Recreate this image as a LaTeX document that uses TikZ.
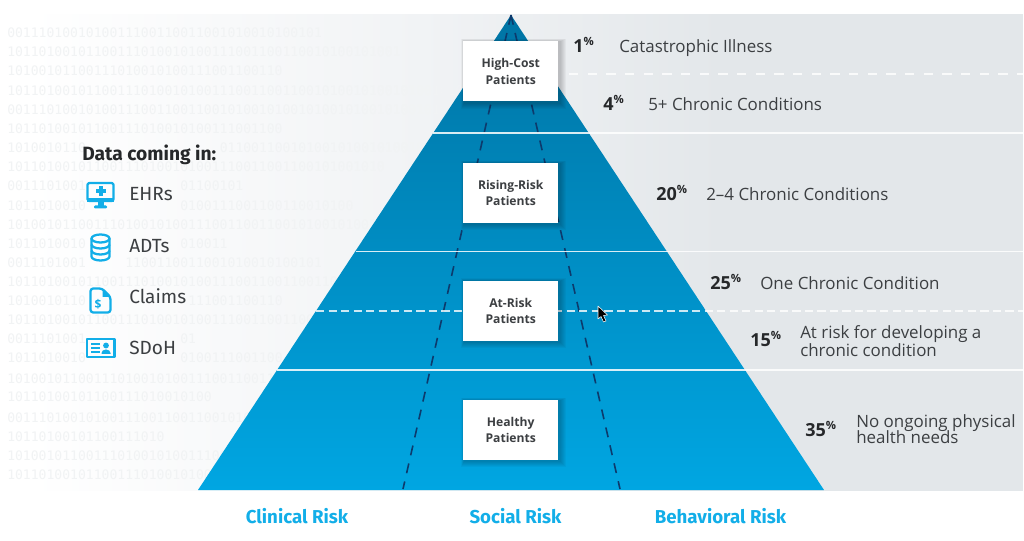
\documentclass[tikz,border=0pt]{standalone}
\usepackage{fontspec}
\setmainfont{Open Sans}
\newfontfamily\headfont{Fira Sans}
\newfontfamily\binfont{DejaVu Sans Mono}
\IfFontExistsTF{Open Sans SemiBold}{\newfontfamily\boxfont{Open Sans SemiBold}}{\newfontfamily\boxfont{Open Sans}[UprightFont=*-Bold]}
\usetikzlibrary{calc}
\definecolor{bgend}{HTML}{E3E7EA}
\definecolor{bgmid}{HTML}{F1F3F5}
\definecolor{bintxt}{HTML}{F1F3F4}
\definecolor{pyrtop}{HTML}{0074A4}
\definecolor{pyrmid}{HTML}{007CB0}
\definecolor{pyrbot}{HTML}{00A6E2}
\definecolor{navy}{HTML}{0D3A6C}
\definecolor{sky}{HTML}{12AEE8}
\definecolor{ink}{HTML}{3C3F42}
\definecolor{inkdark}{HTML}{26282A}
\newcommand\fs[1]{\fontsize{#1}{#1}\selectfont}
\tikzset{
  x=0.75pt,y=-0.75pt,
  bintext/.style={anchor=base west,inner sep=0pt,text=bintxt,font=\binfont\fs{9.8pt}},
  patbox/.style={fill=white,minimum width=71.6pt,minimum height=45pt,inner sep=0pt,align=center,
    font=\boxfont\fs{9.1pt},text=ink,text depth=0pt},
  pct/.style={anchor=base west,inner sep=0pt,text=inkdark,font=\bfseries\fs{13.5pt}},
  desc/.style={anchor=base west,inner sep=0pt,text=ink,font=\fs{12.7pt},align=left},
  axislabel/.style={anchor=base,inner sep=0pt,text=sky,font=\headfont\bfseries\fs{14pt}},
  srclabel/.style={anchor=base west,inner sep=0pt,text=ink,font=\headfont\fs{14.3pt}},
  riskline/.style={navy,line width=1.2pt,dash pattern=on 7.5pt off 6.3pt},
  bandline/.style={white,opacity=.85,line width=1.1pt},
  iconline/.style={sky,line width=1.7pt,line join=round},
}
\newcommand\pctlabel[3]{\node[pct] (#1) at (#2) {#3\raisebox{.4em}{\fs{8.5pt}\%}};}
\begin{document}
\begin{tikzpicture}
\useasboundingbox (0,0) rectangle (1024,541);
% background panel
\begin{scope}
\clip (0,15) rectangle (1023,490);
\fill[white] (0,10) rectangle (31,495);
\shade[left color=white,right color=bgmid] (30,10) rectangle (421,495);
\shade[left color=bgmid,right color=bgend] (420,10) rectangle (721,495);
\fill[bgend] (720,10) rectangle (1023,495);
\end{scope}
% binary texture
\foreach \xx/\yy/\bits in {
7/38/0011101001010011100110011001010010100101,
7/57/10110100101100111010010100111001100110010100101001,
7/76/10100101100111010010100111001100110,
7/95.5/1011010010110011101001010011100110011001010010100101001010,
7/115/0011101001010011100110011001010010100101001010010100101001,
7/134/10110100101100111010010100111001100,
7/153/1010010110,
219.5/153/011001100101001010010100101001010,
7/172/101101001011001110100101001110011001100101001010,
7/191/0011101001,
180.1/191/01100101,
7/210.5/1011010010,
180.1/210.5/0100111001100110010100,
7/230/101001011001110100101001110011001100101001010010100,
7/249/1011010010,
180.1/249/010011,
7/268/0011101001,
125/268/1100110011001010010100101,
7/287/101101001011001110100101001110011001100110010,
7/306/1010010110,
188/306/111001100110,
7/325/101101001011001110100101001110011001100110,
7/343.5/0011101001,
180.1/343.5/01,
7/363/1011010010,
180.1/363/0100111001100,
7/383/101001011001110100101001110011001100101,
7/402/10110100101100111010010100,
7/422/0011101001010011100110011001010010100,
7/441/10110100101100111010,
7/460/1010010110011101001010011100110,
7/479/10110100101100111010010100111
}{\node[bintext] at (\xx,\yy) {\bits};}
% pyramid
\shade[top color=pyrtop,middle color=pyrmid,bottom color=pyrbot] (511,15) coordinate (apex) -- (824,490) coordinate (baseR) -- (198,490) coordinate (baseL) -- cycle;
% risk dividers
\coordinate (riskL) at (403,489);
\coordinate (riskR) at (620,489);
\draw[riskline] (apex) -- (riskL);
\draw[riskline] (apex) -- (riskR);
% band lines
\foreach \yy/\xx in {133/433,251.5/355.5,370/277}{\draw[bandline] (\xx,\yy) -- (1023,\yy);}
\draw[white,opacity=.8,line width=1.1pt,dash pattern=on 7pt off 7pt] (569,74) -- (1023,74);
\draw[white,opacity=.8,line width=1.1pt,dash pattern=on 6.2pt off 3.2pt] (316,311) -- (1023,311);
% patient boxes with soft shadows
\foreach \yy in {71.3,193,310.8,430}{
  \foreach \g in {1,2,3,4,5,6}{
    \fill[black,opacity=.035] ($(510.75,\yy)+(-47.75-\g*0.5+1,-30.3-\g*0.5+1)$) rectangle ($(510.75,\yy)+(47.75+\g+1,30.3+\g+1)$);
  }
}
\node[patbox] (hc) at (510.75,71.3) {High-Cost\\[3.4pt]Patients};
\node[patbox] (rr) at (510.75,193) {Rising-Risk\\[3.4pt]Patients};
\node[patbox] (ar) at (510.75,310.8) {At-Risk\\[3.4pt]Patients};
\node[patbox] (hp) at (510.75,430) {Healthy\\[3.4pt]Patients};
% percentages and descriptions
\pctlabel{p1}{573,52.5}{1}
\pctlabel{p4}{603,110.5}{4}
\pctlabel{p20}{656,200.5}{20}
\pctlabel{p25}{710,289.5}{25}
\pctlabel{p15}{750,346.5}{15}
\pctlabel{p35}{805,436.5}{35}
\node[desc] (d1) at (619,53) {Catastrophic Illness};
\node[desc] (d4) at (648,111) {5+ Chronic Conditions};
\node[desc] (d20) at (706,201) {2–4 Chronic Conditions};
\node[desc] (d25) at (760,290) {One Chronic Condition};
\node[desc] (d15a) at (800,339) {At risk for developing a};
\node[desc] (d15b) at (800,357) {chronic condition};
\node[desc] (d35a) at (856,427) {No ongoing physical};
\node[desc] (d35b) at (856,443) {health needs};
% axis labels
\node[axislabel] (clin) at (297,523) {Clinical Risk};
\node[axislabel] (soc) at (515.5,523) {Social Risk};
\node[axislabel] (beh) at (720.5,523) {Behavioral Risk};
% data list
\node[anchor=base west,inner sep=0pt,text=inkdark,font=\headfont\bfseries\fs{14.4pt}] (dci) at (82,160.5) {Data coming in:};
\node[srclabel] (ehr) at (129,201) {EHRs};
\node[srclabel] (adt) at (129,253) {ADTs};
\node[srclabel] (clm) at (129,304) {Claims};
\node[srclabel] (sdh) at (129,355) {SDoH};
% EHR icon
\draw[iconline,rounded corners=1.2pt] (87.5,183) rectangle (113.5,201);
\fill[sky] (87,198) rectangle (114,202.5);
\fill[sky] (97.5,202) rectangle (103.5,206);
\fill[sky,rounded corners=.8pt] (94,205.5) rectangle (107,208.5);
\fill[sky] (98.8,186) rectangle (102.8,196);
\fill[sky] (95.8,189) rectangle (105.8,193);
% ADT icon
\draw[iconline] (100.5,238.5) ellipse [x radius=9,y radius=4];
\draw[iconline] (91.5,238.5) -- (91.5,256.5) arc[start angle=180,end angle=0,x radius=9,y radius=4] -- (109.5,238.5);
\draw[iconline] (91.5,244.5) arc[start angle=180,end angle=0,x radius=9,y radius=4];
\draw[iconline] (91.5,250.5) arc[start angle=180,end angle=0,x radius=9,y radius=4];
% Claims icon
\draw[iconline,rounded corners=2pt] (102,288.5) -- (90.5,288.5) -- (90.5,312.5) -- (110.5,312.5) -- (110.5,297) -- cycle;
\fill[sky] (102.5,289) -- (110.5,297) -- (102.5,297) -- cycle;
\node[inner sep=0pt,text=sky,font=\bfseries\fs{9pt}] (dollar) at (98,304) {\$};
% SDoH icon
\draw[iconline] (87,339) rectangle (114.5,357);
\fill[sky] (91,343) rectangle (100,345.5);
\fill[sky] (91,347) rectangle (100,349.5);
\fill[sky] (91,351) rectangle (100,353.5);
\fill[sky] (106,345.5) circle [radius=2.9];
\fill[sky] (101.5,354) -- (101.5,353) arc[start angle=180,end angle=360,x radius=4.5,y radius=3.5] -- (110.5,354) -- cycle;
% mouse pointer
\draw[white,fill=black,line width=.4pt,line join=round] (598,306) -- (598,319) -- (601,316.5) -- (603.5,322) -- (606,321) -- (603.5,315.5) -- (607.5,315) -- cycle;
\end{tikzpicture}
\end{document}
